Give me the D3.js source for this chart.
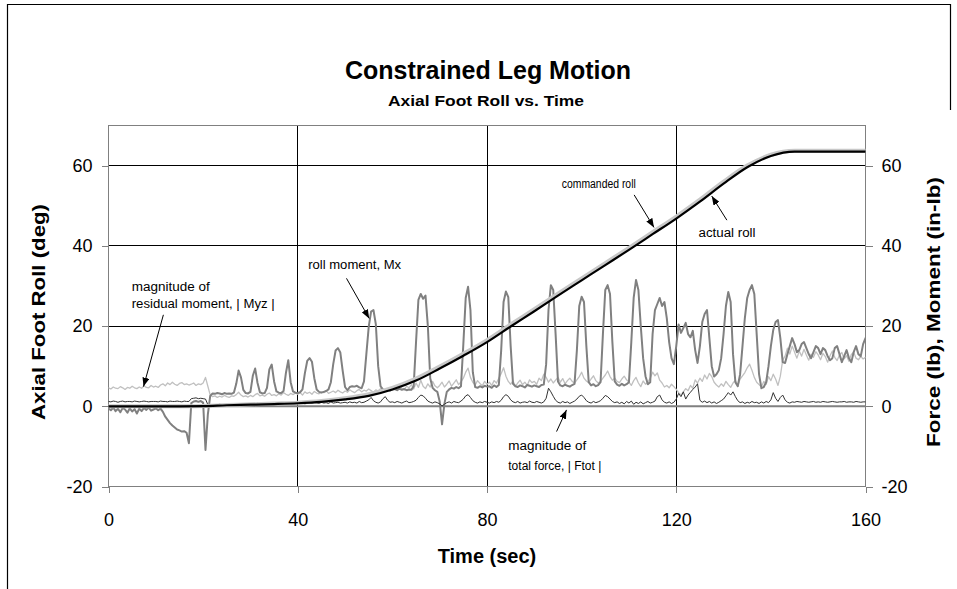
<!DOCTYPE html>
<html>
<head>
<meta charset="utf-8">
<title>Constrained Leg Motion</title>
<script src="https://d3js.org/d3.v7.min.js"></script>
<style>
    body { margin: 0; background: #fff; }
    svg text { font-family: Arial, "Liberation Sans", sans-serif; fill: #000; }
    .grid line { stroke: #000; stroke-width: 1; shape-rendering: crispEdges; }
    .axis path { display: none; }
    .axis line { stroke: #808080; shape-rendering: crispEdges; }
    .axis text { font-size: 18px; }
    .trace { fill: none; stroke-linejoin: round; stroke-linecap: round; }
    .title { font-weight: bold; }
    .note { font-size: 12px; }
</style>
</head>
<body>
<svg id="chart" width="957" height="589"></svg>
<script>
// force / moment channels are sampled every half second, 0..160 s
var dt = 0.5;

// roll moment Mx (in-lb)
var mx = [
    -0.5, -1.0, -0.3, -1.2, -0.6, -1.5, -0.4, -0.8, -1.6, -0.5, -1.3, -0.7, -1.8, -0.6, -1.2, -0.4, -0.9, -0.3, -1.1, -0.8,
    -0.5, -1.0, -0.6, -1.4, -2.6, -3.4, -4.2, -4.8, -5.3, -5.8, -6.0, -6.3, -6.2, -6.6, -9.2, 0.8, 1.2, 1.3, 1.1, 1.3,
    0.9, -10.9, -2.0, 2.6, 3.2, 3.1, 3.3, 3.2, 3.0, 3.3, 3.1, 3.2, 3.1, 3.4, 5.6, 8.9, 7.2, 4.1, 3.3, 3.2,
    3.6, 7.6, 9.4, 5.8, 3.5, 3.2, 3.3, 4.6, 9.2, 10.4, 6.2, 3.7, 3.4, 3.3, 3.8, 8.3, 11.5, 6.0, 3.7, 3.4,
    3.3, 3.5, 4.2, 8.2, 11.3, 12.0, 11.1, 7.0, 4.2, 3.6, 3.4, 3.6, 3.8, 4.2, 6.0, 10.5, 13.9, 14.5, 13.4, 8.8,
    4.8, 4.0, 4.8, 5.0, 4.9, 5.1, 4.7, 4.5, 6.2, 13.0, 19.8, 23.6, 24.0, 20.5, 10.0, 5.0, 4.2, 3.9, 4.1, 3.9,
    4.2, 4.3, 4.0, 4.4, 4.1, 4.3, 4.0, 4.2, 4.1, 5.0, 16.0, 26.5, 28.0, 26.8, 27.6, 20.0, 7.0, 4.6, 4.0, 3.6,
    1.2, -4.5, 0.6, 3.6, 4.2, 4.6, 4.4, 4.8, 4.5, 5.0, 15.5, 27.0, 29.8, 24.0, 8.5, 4.8, 4.6, 5.0, 4.7, 5.1,
    4.9, 5.0, 4.6, 5.2, 4.8, 5.3, 14.0, 26.0, 28.6, 27.2, 15.0, 5.6, 5.0, 4.8, 5.2, 5.0, 4.7, 5.3, 5.1, 4.9,
    5.2, 5.0, 4.8, 5.3, 5.4, 10.5, 24.0, 30.2, 29.0, 18.0, 6.2, 5.2, 5.0, 5.4, 5.1, 4.9, 5.3, 5.6, 14.0, 25.0,
    27.3, 26.0, 15.0, 6.0, 5.2, 5.5, 5.0, 5.3, 6.0, 18.0, 29.0, 30.2, 28.0, 16.0, 6.2, 5.4, 5.1, 5.6, 5.2, 5.5,
    6.0, 16.0, 27.0, 31.5, 29.0, 20.0, 12.0, 7.5, 5.5, 6.0, 18.0, 24.0, 25.5, 27.0, 25.0, 26.0, 22.0, 16.0, 12.0, 10.5,
    15.0, 20.4, 18.3, 19.5, 20.8, 18.0, 17.2, 18.8, 14.0, 10.8, 15.0, 21.0, 23.0, 24.0, 17.0, 10.0, 7.4, 8.0, 9.0, 12.0,
    18.0, 25.0, 28.5, 26.0, 13.0, 6.0, 5.0, 8.0, 15.0, 22.0, 27.0, 29.0, 30.2, 28.0, 18.0, 8.0, 4.5, 4.8, 6.0, 10.0,
    15.0, 19.0, 21.0, 21.5, 17.0, 11.0, 10.8, 13.0, 15.0, 17.0, 15.5, 13.5, 14.0, 15.5, 16.0, 14.5, 13.0, 12.0, 13.5, 15.0,
    14.5, 13.0, 14.5, 14.0, 12.5, 11.5, 12.0, 14.5, 15.0, 13.0, 11.0, 12.5, 14.0, 12.0, 11.0, 13.5, 15.0, 13.0, 12.5, 15.5,
    17.0
];

// magnitude of residual moment |Myz| (in-lb)
var myz = [
    4.6, 4.3, 4.8, 4.5, 4.4, 4.9, 4.6, 4.2, 4.7, 4.5, 5.0, 4.6, 4.4, 4.8, 4.5, 5.1, 4.7, 4.6, 5.2, 4.8,
    5.0, 4.7, 5.3, 5.6, 5.1, 5.8, 5.4, 6.0, 5.5, 5.2, 5.7, 5.9, 5.4, 5.6, 5.3, 5.5, 5.8, 5.2, 5.6, 5.4,
    5.8, 7.2, 5.0, 2.8, 2.4, 2.6, 2.2, 2.5, 2.3, 2.7, 2.4, 2.2, 2.6, 2.5, 2.9, 3.5, 2.8, 2.4, 2.6, 2.3,
    2.7, 2.4, 2.9, 3.2, 2.6, 2.8, 2.5, 3.0, 3.3, 2.7, 2.9, 2.6, 3.1, 2.8, 3.4, 3.0, 2.7, 3.2, 2.9, 3.3,
    3.0, 3.4, 2.8, 3.6, 3.2, 3.5, 3.0, 3.7, 3.3, 3.1, 3.6, 3.4, 3.9, 3.2, 3.5, 3.8, 3.4, 4.0, 3.6, 3.3,
    3.8, 3.5, 4.1, 3.7, 3.4, 3.9, 4.2, 3.6, 4.0, 3.8, 4.3, 3.9, 3.5, 4.1, 3.8, 4.4, 4.0, 3.7, 4.2, 4.5,
    4.2, 4.8, 4.0, 5.2, 4.5, 4.1, 5.0, 4.6, 5.4, 4.3, 5.8, 4.7, 6.5, 5.0, 4.4, 5.6, 4.8, 6.2, 5.1, 4.6,
    5.2, 6.0, 4.8, 5.5, 6.3, 5.0, 5.8, 6.6, 5.4, 6.1, 7.0, 8.5, 9.5, 7.2, 6.0, 5.3, 6.4, 5.7, 5.1, 6.2,
    5.5, 6.0, 5.2, 6.4, 5.8, 7.0, 8.2, 9.6, 7.5, 6.2, 5.5, 6.3, 5.0, 5.8, 6.5, 5.4, 6.0, 5.2, 6.6, 5.9,
    6.2, 5.5, 7.0, 6.4, 8.0, 7.2, 6.0, 6.8, 5.8, 6.5, 7.2, 6.0, 6.9, 5.6, 6.4, 7.0, 6.2, 5.8, 6.6, 7.4,
    8.5, 7.0, 6.3, 5.9, 6.8, 7.6, 6.4, 5.8, 6.2, 7.0, 7.8, 8.8, 7.4, 6.5, 7.0, 6.2, 5.9, 6.8, 7.5, 6.6,
    6.0, 5.2, 6.4, 7.2, 5.8, 4.9, 6.3, 5.5, 6.0, 7.0, 8.5, 7.6, 8.3, 6.5, 5.8, 4.8, 5.2, 4.6, 5.5, 4.9,
    4.2, 3.4, 2.8, 3.6, 4.4, 3.9, 5.2, 4.5, 6.6, 5.8, 7.0, 6.2, 7.8, 6.8, 8.2, 7.4, 6.0, 5.3, 4.8, 5.6,
    5.0, 6.2, 5.4, 4.7, 5.8, 6.5, 5.2, 6.8, 7.6, 8.4, 9.6, 10.5, 9.0, 7.2, 6.0, 5.4, 4.8, 6.2, 5.5, 7.4,
    6.4, 8.0, 6.8, 5.2, 7.5, 11.5, 12.5, 14.5, 13.0, 15.0, 13.5, 12.0, 13.8, 12.5, 14.2, 12.8, 11.5, 13.0, 12.2, 13.6,
    12.8, 11.6, 13.2, 12.4, 11.0, 12.6, 13.8, 12.2, 11.4, 12.8, 13.4, 11.8, 12.6, 11.2, 12.9, 13.5, 12.0, 11.6, 12.4, 11.8,
    12.2
];

// magnitude of total force |Ftot| (lb)
var ftot = [
    1.2, 1.1, 1.3, 1.2, 1.0, 1.2, 1.3, 1.1, 1.2, 1.2, 1.1, 1.3, 1.2, 1.1, 1.2, 1.3, 1.2, 1.1, 1.2, 1.2,
    1.2, 1.1, 1.3, 1.2, 1.2, 1.1, 1.3, 1.2, 1.2, 1.3, 1.2, 1.1, 1.3, 1.2, 1.2, 1.9, 2.0, 2.1, 1.9, 2.0,
    1.9, 1.8, 0.4, 0.3, 0.4, 0.3, 0.4, 0.5, 0.4, 0.3, 0.5, 0.4, 0.5, 0.4, 0.6, 0.5, 0.4, 0.5, 0.6, 0.5,
    0.6, 0.7, 0.5, 0.8, 0.6, 0.7, 0.9, 0.6, 0.7, 0.8, 0.6, 0.9, 0.7, 0.8, 0.6, 0.7, 0.9, 0.8, 0.6, 0.7,
    0.8, 0.7, 0.9, 0.6, 0.8, 1.0, 0.7, 0.9, 0.8, 0.7, 1.0, 0.8, 0.9, 0.7, 1.1, 0.8, 0.9, 1.0, 0.8, 0.9,
    1.0, 0.8, 1.1, 0.9, 1.0, 0.8, 1.2, 0.9, 1.0, 1.3, 1.6, 2.2, 1.4, 1.0, 0.8, 1.1, 1.9, 2.4, 1.5, 1.0,
    1.1, 0.9, 1.2, 1.0, 0.8, 1.1, 1.3, 0.9, 1.0, 1.2, 1.5, 2.2, 2.8, 2.6, 2.0, 1.3, 1.0, 0.8, 1.1, 0.9,
    0.6, 0.1, 0.5, 0.9, 1.1, 0.8, 1.2, 1.0, 0.9, 1.3, 1.8, 2.6, 2.9, 2.2, 1.4, 1.0, 0.8, 1.1, 0.9, 1.2,
    1.0, 0.8, 1.1, 0.9, 1.2, 1.0, 1.5, 2.4, 2.9, 2.5, 1.6, 1.1, 0.9, 1.2, 0.8, 1.0, 1.1, 0.9, 1.3, 1.0,
    0.9, 1.2, 1.0, 0.8, 1.1, 2.0, 4.5, 3.6, 2.5, 1.5, 1.0, 0.8, 1.2, 0.9, 1.1, 0.7, 1.0, 1.3, 1.8, 2.5,
    2.8, 2.2, 1.4, 1.0, 0.8, 1.2, 0.9, 1.1, 1.4, 2.0, 2.7, 2.4, 1.8, 1.2, 0.9, 1.1, 0.7, 1.0, 0.6, 1.2,
    0.8, 1.3, 0.5, 1.0, 0.7, 1.1, 0.6, 0.9, 1.2, 0.8, 1.0, 1.3, 2.4, 2.8, 1.6, 1.0, 0.8, 1.1, 0.7, 1.0,
    1.8, 3.2, 2.4, 3.6, 1.8, 2.8, 3.5, 4.2, 4.8, 5.6, 1.5, 1.0, 1.3, 0.9, 1.2, 0.8, 1.1, 0.7, 1.0, 1.4,
    1.8, 2.6, 3.4, 2.8, 3.6, 2.4, 1.4, 0.9, 1.1, 0.7, 1.0, 0.8, 1.2, 0.9, 1.0, 0.7, 1.1, 0.8, 1.2, 0.9,
    1.6, 3.4, 2.0, 1.2, 2.2, 2.8, 1.6, 1.0, 0.8, 1.1, 1.0, 1.2, 1.1, 1.0, 1.2, 1.1, 1.0, 1.1, 1.2, 1.0,
    1.1, 1.0, 1.2, 1.1, 1.0, 1.1, 1.2, 1.1, 1.0, 1.1, 1.1, 1.2, 1.0, 1.1, 1.1, 1.0, 1.2, 1.1, 1.0, 1.1,
    1.1
];

// foot roll (deg), read every 5 s
var rollTime = [0, 5, 10, 15, 20, 25, 30, 35, 40, 45, 50, 55, 60, 65, 70, 75, 80,
    85, 90, 95, 100, 105, 110, 115, 120, 125, 130, 135, 140, 145, 150, 155, 160];
var commandedRoll = [0.0, 0.0, 0.0, 0.0, 0.1, 0.3, 0.5, 0.7, 0.9, 1.3, 2.0, 3.0, 4.6, 6.9, 9.9, 13.1, 16.5,
    20.4, 24.2, 28.1, 31.9, 35.7, 39.5, 43.4, 47.3, 51.5, 56.0, 60.0, 62.7, 63.7, 63.7, 63.7, 63.7];
var actualRoll = [0.0, 0.0, 0.0, 0.0, 0.05, 0.25, 0.4, 0.55, 0.75, 1.1, 1.7, 2.6, 4.2, 6.4, 9.4, 12.6, 16.0,
    19.9, 23.7, 27.6, 31.4, 35.2, 39.0, 42.9, 46.8, 51.0, 55.5, 59.6, 62.4, 63.5, 63.5, 63.5, 63.5];

var xTicks = [0, 40, 80, 120, 160];
var yTicks = [-20, 0, 20, 40, 60];


function drawChart() {
    var svg = d3.select('#chart');

    var xScale = d3.scaleLinear().domain([0, 160]).range([108.5, 865.5]);
    var yScale = d3.scaleLinear().domain([-20, 70]).range([486.5, 125.5]);

    // plain "-20", not the unicode minus d3.format would give
    var plain = function (d) { return String(d); };

    // chart area frame (cropped on the right and bottom)
    svg.append('path')
        .attr('d', 'M7.5,589 V4.5 H950.5 V110')
        .attr('fill', 'none')
        .attr('stroke', '#000')
        .attr('stroke-width', 1.2);

    svg.append('defs').append('marker')
        .attr('id', 'head')
        .attr('viewBox', '0 0 9 7')
        .attr('refX', 9).attr('refY', 3.5)
        .attr('markerWidth', 9).attr('markerHeight', 7)
        .attr('markerUnits', 'userSpaceOnUse')
        .attr('orient', 'auto')
        .append('path').attr('d', 'M0,0 L9,3.5 L0,7 z').attr('fill', '#000');

    svg.append('clipPath').attr('id', 'plot')
        .append('rect')
        .attr('x', xScale(0)).attr('y', yScale(70))
        .attr('width', xScale(160) - xScale(0))
        .attr('height', yScale(-20) - yScale(70));

    // gridlines
    var grid = svg.append('g').attr('class', 'grid');
    grid.selectAll('.h').data([20, 40, 60]).enter().append('line')
        .attr('x1', xScale(0)).attr('x2', xScale(160))
        .attr('y1', function (d) { return yScale(d); })
        .attr('y2', function (d) { return yScale(d); });
    grid.selectAll('.v').data([40, 80, 120]).enter().append('line')
        .attr('y1', yScale(70)).attr('y2', yScale(-20))
        .attr('x1', function (d) { return xScale(d); })
        .attr('x2', function (d) { return xScale(d); });

    svg.append('rect')
        .attr('x', xScale(0)).attr('y', yScale(70))
        .attr('width', xScale(160) - xScale(0))
        .attr('height', yScale(-20) - yScale(70))
        .attr('fill', 'none').attr('stroke', '#808080')
        .attr('shape-rendering', 'crispEdges');

    svg.append('line')
        .attr('x1', xScale(0)).attr('x2', xScale(160))
        .attr('y1', yScale(0)).attr('y2', yScale(0))
        .attr('stroke', '#808080').attr('stroke-width', 2);

    // axes
    svg.append('g').attr('class', 'axis')
        .attr('transform', 'translate(' + xScale(0) + ',0)')
        .call(d3.axisLeft(yScale).tickValues(yTicks).tickFormat(plain).tickSize(7).tickPadding(9));
    svg.append('g').attr('class', 'axis')
        .attr('transform', 'translate(' + xScale(160) + ',0)')
        .call(d3.axisRight(yScale).tickValues(yTicks).tickFormat(plain).tickSize(7).tickPadding(9));
    svg.append('g').attr('class', 'axis')
        .attr('transform', 'translate(0,' + yScale(-20) + ')')
        .call(d3.axisBottom(xScale).tickValues(xTicks).tickFormat(plain).tickSize(6).tickPadding(21));

    // traces
    var sampled = d3.line()
        .x(function (d, i) { return xScale(i * dt); })
        .y(function (d) { return yScale(d); });
    var smooth = d3.line()
        .x(function (d, i) { return xScale(rollTime[i]); })
        .y(function (d) { return yScale(d); })
        .curve(d3.curveMonotoneX);

    var traces = svg.append('g').attr('clip-path', 'url(#plot)');
    traces.append('path').datum(myz).attr('class', 'trace')
        .attr('stroke', '#c0c0c0').attr('stroke-width', 1.3).attr('d', sampled);
    traces.append('path').datum(mx).attr('class', 'trace')
        .attr('stroke', '#808080').attr('stroke-width', 2).attr('d', sampled);
    traces.append('path').datum(ftot).attr('class', 'trace')
        .attr('stroke', '#333').attr('stroke-width', 1).attr('d', sampled);
    traces.append('path').datum(commandedRoll).attr('class', 'trace')
        .attr('stroke', '#c8c8c8').attr('stroke-width', 4).attr('d', smooth);
    traces.append('path').datum(actualRoll).attr('class', 'trace')
        .attr('stroke', '#000').attr('stroke-width', 2.2).attr('d', smooth);

    // callouts, placed in data units
    var notes = [
        { t: 4.9, v: [28.8, 24.4], text: ['magnitude of', 'residual moment, | Myz |'], len: [78, 143],
          from: [11.6, 22.8], to: [7.4, 4.9] },
        { t: 42.2, v: [34.2], text: ['roll moment, Mx'], len: [93],
          from: [50.3, 31.9], to: [55.1, 21.9] },
        { t: 95.8, v: [54.4], text: ['commanded roll'], len: [74],
          from: [111.1, 52.7], to: [115.3, 44.6] },
        { t: 124.7, v: [42.3], text: ['actual roll'], len: [57],
          from: [130.7, 46.4], to: [127.5, 52.4] },
        { t: 84.5, v: [-11.0, -15.9], text: ['magnitude of', 'total force, | Ftot |'], len: [78, 93],
          from: [94.7, -6.3], to: [96.8, -0.9] }
    ];

    notes.forEach(function (n) {
        n.text.forEach(function (s, k) {
            svg.append('text').attr('class', 'note')
                .attr('x', xScale(n.t)).attr('y', yScale(n.v[k]))
                .attr('textLength', n.len[k])
                .attr('lengthAdjust', 'spacingAndGlyphs')
                .text(s);
        });
        svg.append('line')
            .attr('x1', xScale(n.from[0])).attr('y1', yScale(n.from[1]))
            .attr('x2', xScale(n.to[0])).attr('y2', yScale(n.to[1]))
            .attr('stroke', '#000').attr('stroke-width', 1)
            .attr('marker-end', 'url(#head)');
    });

    // titles
    svg.append('text').attr('class', 'title')
        .attr('x', 488).attr('y', 79).attr('text-anchor', 'middle')
        .attr('font-size', 25).text('Constrained Leg Motion');
    svg.append('text').attr('class', 'title')
        .attr('x', 486).attr('y', 106).attr('text-anchor', 'middle')
        .attr('font-size', 15).attr('textLength', 196)
        .attr('lengthAdjust', 'spacingAndGlyphs')
        .text('Axial Foot Roll vs. Time');
    svg.append('text').attr('class', 'title')
        .attr('x', 487).attr('y', 563).attr('text-anchor', 'middle')
        .attr('font-size', 20).text('Time (sec)');
    svg.append('text').attr('class', 'title')
        .attr('transform', 'translate(45,312) rotate(-90)')
        .attr('text-anchor', 'middle')
        .attr('font-size', 18).attr('textLength', 216)
        .attr('lengthAdjust', 'spacingAndGlyphs')
        .text('Axial Foot Roll (deg)');
    svg.append('text').attr('class', 'title')
        .attr('transform', 'translate(940,312) rotate(-90)')
        .attr('text-anchor', 'middle')
        .attr('font-size', 18).attr('textLength', 270)
        .attr('lengthAdjust', 'spacingAndGlyphs')
        .text('Force (lb), Moment (in-lb)');
}

drawChart();
</script>
</body>
</html>
